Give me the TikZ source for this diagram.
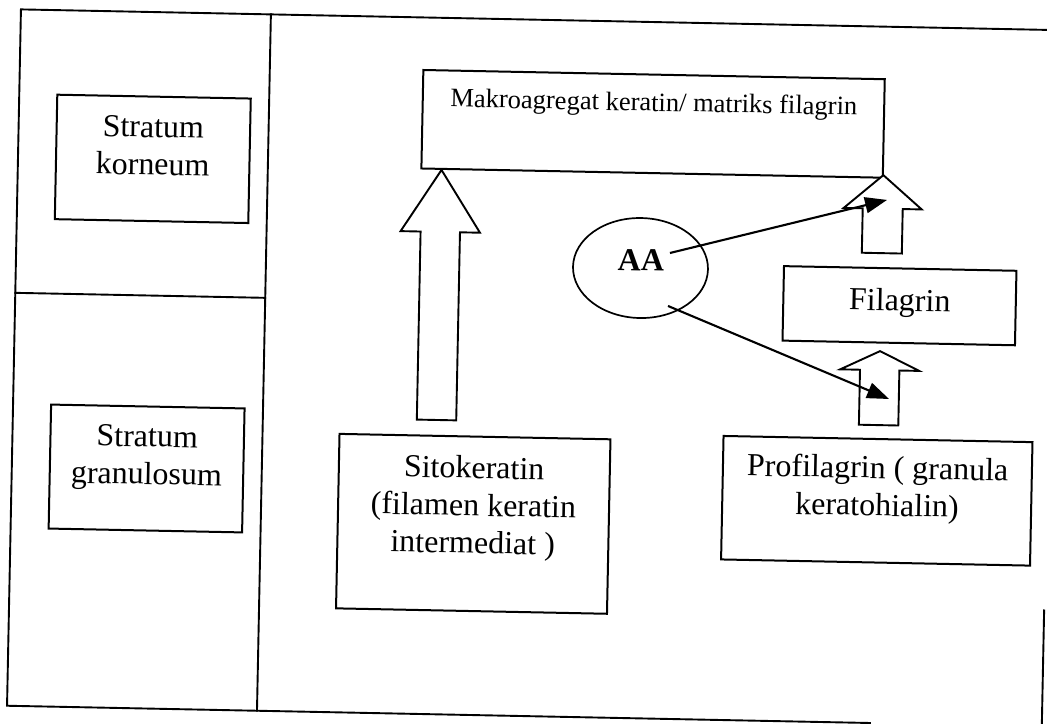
\documentclass[tikz,border=0pt]{standalone}
\usepackage{fontspec}
\setmainfont{Liberation Serif}
\usetikzlibrary{shapes.geometric,arrows.meta,calc}
\tikzset{
  frameline/.style={line width=1.9pt, line cap=rect},
  boxshape/.style={draw, rectangle, line width=2pt, inner sep=0pt},
  boxtext/.style={inner sep=0pt, anchor=base, font=\fontsize{32}{37.5}\selectfont},
  smalltext/.style={inner sep=0pt, anchor=base west, font=\fontsize{26.5}{31}\selectfont},
  ovalshape/.style={draw, ellipse, line width=1.7pt, inner sep=0pt, minimum width=135pt, minimum height=100pt},
  hollowarrow/.style={draw, line width=1.9pt, line join=miter, fill=white},
  conn/.style={line width=2.1pt, -{Triangle[length=22pt,width=16pt]}},
}
\newcommand{\hollowarrowup}[6]{%
  \draw[hollowarrow] (#1,#2) -- ({#1+#5},#3) -- ({#1+#6},#3) -- ({#1+#6},#4)
    -- ({#1-#6},#4) -- ({#1-#6},#3) -- ({#1-#5},#3) -- cycle;}
\begin{document}
\begin{tikzpicture}[x=1pt, y=-1pt]
\useasboundingbox (0,0) rectangle (1047,723);
\begin{scope}[rotate around={-1.146:(523.5,361.5)}, transform shape]
  % frame
  \draw[frameline] (1070,19.5) -- (14,19.5) -- (14,716) -- (877,716);
  \draw[frameline] (1049,600) -- (1049,716);
  \draw[frameline] (264,19.5) -- (264,716);
  \draw[frameline] (14,303) -- (264,303);
  % left column
  \node[boxshape, minimum width=193.5pt, minimum height=124.5pt] (korneum) at (148.8,166.3) {};
  \node[boxtext] (korneumtext) at (148.8,144.8) {\begin{tabular}[t]{@{}c@{}}Stratum\\korneum\end{tabular}};
  \node[boxshape, minimum width=193.5pt, minimum height=124pt] (granulosum) at (148.8,476) {};
  \node[boxtext] (granulosumtext) at (148.8,454.2) {\begin{tabular}[t]{@{}c@{}}Stratum\\granulosum\end{tabular}};
  % right part boxes
  \node[boxshape, minimum width=461.5pt, minimum height=98.5pt] (makro) at (648.3,121.3) {};
  \node[smalltext] (makrotext) at (445,108.5) {Makroagregat keratin/ matriks filagrin};
  \node[boxshape, minimum width=271pt, minimum height=174.5pt] (sito) at (476.5,524.8) {};
  \node[boxtext] (sitotext) at (476.3,479.3) {\begin{tabular}[t]{@{}c@{}}Sitokeratin\\(filamen keratin\\intermediat )\end{tabular}};
  \node[boxshape, minimum width=232.5pt, minimum height=74.5pt] (filagrin) at (898.3,298.2) {};
  \node[boxtext] (filagrintext) at (898.5,303.2) {Filagrin};
  \node[boxshape, minimum width=309pt, minimum height=123.5pt] (profil) at (879.5,493.7) {};
  \node[boxtext] (profiltext) at (879.8,471.2) {\begin{tabular}[t]{@{}c@{}}Profilagrin ( granula\\keratohialin)\end{tabular}};
  % AA ellipse
  \node[ovalshape] (aa) at (638.6,265.7) {};
  \node[boxtext, font=\bfseries\fontsize{32}{37.5}\selectfont] (aatext) at (639,268.4) {AA};
  % hollow block arrows
  \hollowarrowup{437.7}{171.6}{233.6}{421.7}{39.7}{19.7}
  \hollowarrowup{879.6}{168}{201.5}{246}{39}{20}
  \hollowarrowup{879.8}{344}{363}{418}{39.5}{19.7}
  % connectors from AA
  \coordinate (aaup) at (667.8,250.1);
  \coordinate (aalow) at (666.9,303.1);
  \coordinate (tipup) at (883.8,192.7);
  \coordinate (tiplow) at (889.8,391.7);
  \draw[conn] (aaup) -- (tipup);
  \draw[conn] (aalow) -- (tiplow);
\end{scope}
\end{tikzpicture}
\end{document}
